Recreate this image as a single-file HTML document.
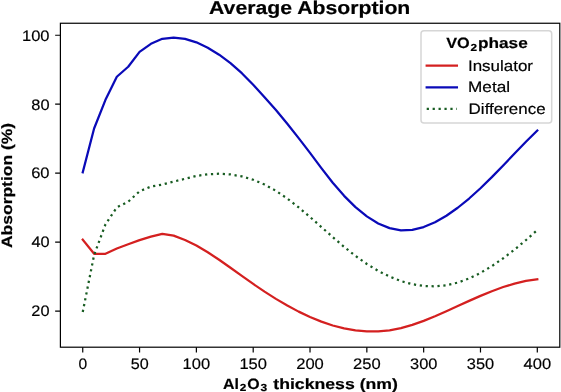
<!DOCTYPE html><html><head><meta charset="utf-8"><style>
html,body{margin:0;padding:0;background:#fff;width:561px;height:392px;overflow:hidden}
svg{display:block;will-change:transform}
text{font-family:"Liberation Sans", sans-serif;fill:#000;white-space:pre;text-rendering:geometricPrecision}
text.r{stroke:#000;stroke-width:0.18px}
text.b{stroke:#000;stroke-width:0.2px}
</style></head><body>
<svg width="561" height="392" viewBox="0 0 561 392">
<rect width="561" height="392" fill="#fff"/>
<defs><clipPath id="ax"><rect x="60.4" y="23.25" width="499.4" height="323.95"/></clipPath></defs>
<g clip-path="url(#ax)" fill="none" stroke-width="2.25" stroke-linejoin="round">
<polyline points="82.74,239.65 94.10,253.80 105.47,253.80 116.83,248.49 128.20,244.31 139.56,240.10 150.92,236.69 162.29,233.79 173.65,235.66 185.02,239.94 196.38,245.57 207.74,252.27 219.11,259.75 230.47,267.71 241.84,275.87 253.20,283.95 264.56,291.67 275.93,298.90 287.29,305.57 298.66,311.63 310.02,317.02 321.38,321.65 332.75,325.48 344.11,328.43 355.48,330.45 366.84,331.48 378.20,331.47 389.57,330.37 400.93,328.15 412.30,324.92 423.66,320.89 435.02,316.26 446.39,311.25 457.75,306.07 469.12,300.88 480.48,295.87 491.84,291.20 503.21,287.04 514.57,283.57 525.94,280.94 537.30,279.33" stroke="#d42020" stroke-linecap="square"/>
<polyline points="82.74,172.31 94.10,128.50 105.47,99.86 116.83,76.74 128.20,66.74 139.56,51.91 150.92,43.80 162.29,38.84 173.65,37.60 185.02,38.86 196.38,42.32 207.74,47.70 219.11,54.69 230.47,63.18 241.84,73.19 253.20,84.77 264.56,97.22 275.93,110.06 287.29,123.75 298.66,138.13 310.02,152.90 321.38,168.12 332.75,182.74 344.11,195.83 355.48,207.10 366.84,216.36 378.20,223.42 389.57,228.12 400.93,230.29 412.30,229.84 423.66,227.04 435.02,222.24 446.39,215.73 457.75,207.75 469.12,198.51 480.48,188.22 491.84,177.09 503.21,165.42 514.57,153.55 525.94,141.83 537.30,130.59" stroke="#0a0ab8" stroke-linecap="square"/>
<polyline points="82.74,312.00 94.10,255.01 105.47,224.30 116.83,207.40 128.20,201.70 139.56,191.28 150.92,186.52 162.29,184.59 173.65,181.59 185.02,178.77 196.38,175.96 207.74,174.26 219.11,173.73 230.47,174.43 241.84,176.42 253.20,179.77 264.56,184.55 275.93,190.82 287.29,198.54 298.66,207.40 310.02,217.02 321.38,227.04 332.75,237.11 344.11,246.85 355.48,255.91 366.84,263.96 378.20,270.86 389.57,276.57 400.93,281.04 412.30,284.19 423.66,285.98 435.02,286.36 446.39,285.25 457.75,282.62 469.12,278.45 480.48,272.90 491.84,266.12 503.21,258.28 514.57,249.55 525.94,240.09 537.30,230.06" stroke="#185c22" stroke-linecap="butt" stroke-dasharray="2.233 3.685"/>
</g>
<rect x="60.4" y="23.25" width="499.4" height="323.95" fill="none" stroke="#000" stroke-width="1.2"/>
<path d="M82.74 347.2V352.45 M139.56 347.2V352.45 M196.38 347.2V352.45 M253.20 347.2V352.45 M310.02 347.2V352.45 M366.84 347.2V352.45 M423.66 347.2V352.45 M480.48 347.2V352.45 M537.30 347.2V352.45 M55.15 311.07H60.4 M55.15 242.12H60.4 M55.15 173.16H60.4 M55.15 104.21H60.4 M55.15 35.25H60.4" stroke="#000" stroke-width="1.2" fill="none"/>
<text x="78.40" y="368.60" font-size="15.2" class="r" textLength="8.68" lengthAdjust="spacingAndGlyphs">0</text>
<text x="130.67" y="368.60" font-size="15.2" class="r" textLength="17.96" lengthAdjust="spacingAndGlyphs">50</text>
<text x="182.63" y="368.60" font-size="15.2" class="r" textLength="27.54" lengthAdjust="spacingAndGlyphs">100</text>
<text x="239.45" y="368.60" font-size="15.2" class="r" textLength="27.54" lengthAdjust="spacingAndGlyphs">150</text>
<text x="296.20" y="368.60" font-size="15.2" class="r" textLength="27.62" lengthAdjust="spacingAndGlyphs">200</text>
<text x="353.02" y="368.60" font-size="15.2" class="r" textLength="27.62" lengthAdjust="spacingAndGlyphs">250</text>
<text x="410.07" y="368.60" font-size="15.2" class="r" textLength="27.38" lengthAdjust="spacingAndGlyphs">300</text>
<text x="466.89" y="368.60" font-size="15.2" class="r" textLength="27.38" lengthAdjust="spacingAndGlyphs">350</text>
<text x="523.53" y="368.60" font-size="15.2" class="r" textLength="27.57" lengthAdjust="spacingAndGlyphs">400</text>
<text x="31.36" y="316.37" font-size="15.2" class="r" textLength="18.18" lengthAdjust="spacingAndGlyphs">20</text>
<text x="31.40" y="247.42" font-size="15.2" class="r" textLength="18.14" lengthAdjust="spacingAndGlyphs">40</text>
<text x="31.19" y="178.46" font-size="15.2" class="r" textLength="18.36" lengthAdjust="spacingAndGlyphs">60</text>
<text x="31.29" y="109.51" font-size="15.2" class="r" textLength="18.25" lengthAdjust="spacingAndGlyphs">80</text>
<text x="22.01" y="40.55" font-size="15.2" class="r" textLength="27.54" lengthAdjust="spacingAndGlyphs">100</text>
<text x="209.07" y="13.90" font-size="18.6" font-weight="bold" class="b" textLength="201.25" lengthAdjust="spacingAndGlyphs">Average Absorption</text>
<text x="223.00" y="389.00" font-size="14.9" font-weight="bold" class="b" textLength="15.93" lengthAdjust="spacingAndGlyphs">Al</text>
<text x="239.69" y="391.00" font-size="10.4" font-weight="bold" class="b" textLength="6.59" lengthAdjust="spacingAndGlyphs">2</text>
<text x="247.20" y="389.00" font-size="14.9" font-weight="bold" class="b" textLength="12.37" lengthAdjust="spacingAndGlyphs">O</text>
<text x="260.52" y="391.00" font-size="10.4" font-weight="bold" class="b" textLength="6.66" lengthAdjust="spacingAndGlyphs">3</text>
<text x="273.29" y="389.00" font-size="14.9" font-weight="bold" class="b" textLength="124.60" lengthAdjust="spacingAndGlyphs">thickness (nm)</text>
<text transform="translate(11.5,247.6) rotate(-90)" x="-0.44" y="0" font-size="14.9" font-weight="bold" class="b" textLength="125.20" lengthAdjust="spacingAndGlyphs">Absorption (%)</text>
<rect x="421" y="30.8" width="130.7" height="92.2" rx="3" ry="3" fill="#fff" fill-opacity="0.8" stroke="#d6d6d6" stroke-width="1.5"/>
<text x="446.29" y="48.10" font-size="14.9" font-weight="bold" class="b" textLength="23.49" lengthAdjust="spacingAndGlyphs">VO</text>
<text x="470.59" y="50.50" font-size="10.4" font-weight="bold" class="b" textLength="6.59" lengthAdjust="spacingAndGlyphs">2</text>
<text x="478.06" y="48.10" font-size="14.9" font-weight="bold" class="b" textLength="49.72" lengthAdjust="spacingAndGlyphs">phase</text>
<path d="M426.7 65.6H456.9" stroke="#d42020" stroke-width="2.25" stroke-linecap="square"/>
<path d="M426.7 87.3H456.9" stroke="#0a0ab8" stroke-width="2.25" stroke-linecap="square"/>
<path d="M426.7 108.8H456.9" stroke="#185c22" stroke-width="2.25" stroke-dasharray="2.233 3.685"/>
<text x="467.94" y="70.90" font-size="15.2" class="r" textLength="65.06" lengthAdjust="spacingAndGlyphs">Insulator</text>
<text x="468.09" y="92.20" font-size="15.2" class="r" textLength="41.96" lengthAdjust="spacingAndGlyphs">Metal</text>
<text x="468.61" y="114.40" font-size="15.2" class="r" textLength="77.00" lengthAdjust="spacingAndGlyphs">Difference</text>
</svg></body></html>
